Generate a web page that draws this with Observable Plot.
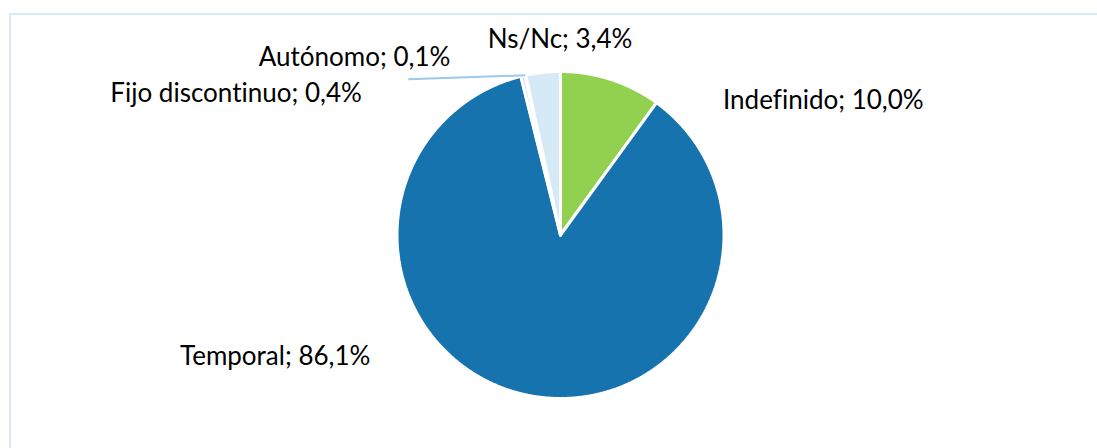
<!DOCTYPE html>
<html>
<head>
<meta charset="utf-8">
<script src="https://cdn.jsdelivr.net/npm/d3@7"></script>
<script src="https://cdn.jsdelivr.net/npm/@observablehq/plot@0.6"></script>
<style>
  html, body { margin: 0; padding: 0; background: #fff; overflow: hidden; width: 1097px; height: 448px; }
  #frame { position: absolute; left: 9px; top: 13px; width: 1200px; height: 600px; border: 2px solid #d7eaf8; box-sizing: border-box; }
  #chart { position: absolute; left: 0; top: 0; }
  #chart text { font-variant-ligatures: none; font-feature-settings: "liga" 0; }
</style>
</head>
<body>
<div id="frame"></div>
<div id="chart"></div>
<script>
// ---- data ----
const labels = ["Indefinido", "Temporal", "Fijo discontinuo", "Autónomo", "Ns/Nc"];
const values = [10.0, 86.1, 0.4, 0.1, 3.4];
const colors = ["#92d050", "#1773ae", "#bdd7ee", "#9dc3e6", "#d6e9f7"];

// ---- layout (label placement relative to slice mid-angle on the rim) ----
const labelLayout = [
  {textAnchor: "start", dx: 112, dy: 21},
  {textAnchor: "end", dx: -159, dy: -39},
  {textAnchor: "end", dx: -161, dy: 18},
  {textAnchor: "end", dx: -75, dy: -18},
  {textAnchor: "middle", dx: 17, dy: -33}
];
const R = 163.5; // pixel radius, used to convert leader offsets

const fmt = v => d3.format(".1f")(v).replace(".", ",") + "%";
const table = labels.map((label, i) => ({label, value: values[i]}));
const arcs = d3.pie().sort(null).value(d => d.value)(table);

// slice polygons in unit-circle data space
const points = [];
arcs.forEach(a => {
  const lab = a.data.label;
  points.push({label: lab, x: 0, y: 0});
  const n = Math.max(2, Math.ceil((a.endAngle - a.startAngle) / (Math.PI / 720)));
  for (let k = 0; k <= n; k++) {
    const t = a.startAngle + (a.endAngle - a.startAngle) * k / n;
    points.push({label: lab, x: Math.sin(t), y: Math.cos(t)});
  }
  points.push({label: lab, x: 0, y: 0});
});

const labelData = arcs.map(a => {
  const m = (a.startAngle + a.endAngle) / 2;
  return {label: a.data.label, x: Math.sin(m), y: Math.cos(m), text: a.data.label + "; " + fmt(a.data.value)};
});

// leader line for the tiny "Autónomo" slice
const ai = labels.indexOf("Autónomo");
const leader = [{x1: labelData[ai].x, y1: labelData[ai].y,
                 x2: labelData[ai].x - 117 / R, y2: labelData[ai].y - 4 / R}];

const cx = 560, cy = 234.5;
const chart = Plot.plot({
  width: 1097,
  height: 448,
  margin: 0,
  x: {domain: [-1, 1], range: [cx - R, cx + R], axis: null},
  y: {domain: [-1, 1], range: [cy + R, cy - R], axis: null},
  color: {domain: labels, range: colors},
  style: {background: "transparent"},
  marks: [
    Plot.line(points, {x: "x", y: "y", z: "label", fill: "label", stroke: "white", strokeWidth: 3, strokeLinejoin: "miter"}),
    Plot.link(leader, {x1: "x1", y1: "y1", x2: "x2", y2: "y2", stroke: "#9cc8ec", strokeWidth: 2}),
    ...labelData.map((d, i) => Plot.text([d], {
      x: "x", y: "y", text: "text",
      textAnchor: labelLayout[i].textAnchor, dx: labelLayout[i].dx, dy: labelLayout[i].dy,
      fontSize: 26, fontFamily: "Lato", fill: "#000"
    }))
  ]
});
document.getElementById("chart").appendChild(chart);
</script>
</body>
</html>
